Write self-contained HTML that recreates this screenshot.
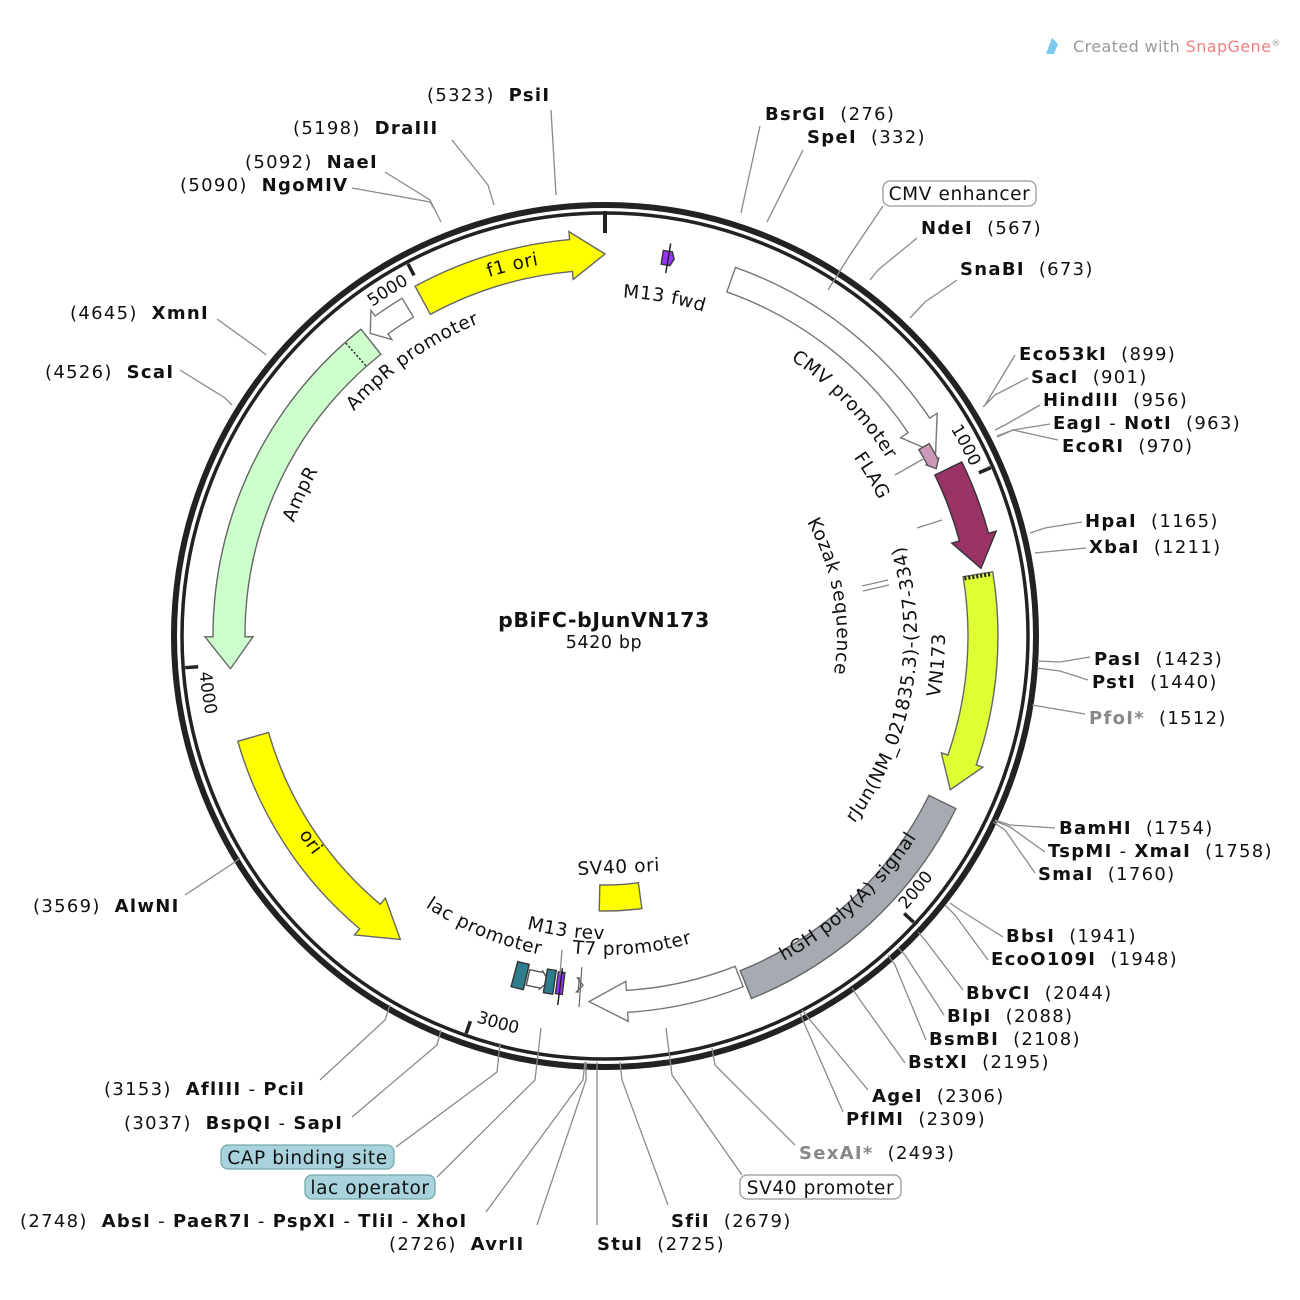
<!DOCTYPE html>
<html><head><meta charset="utf-8">
<style>
html,body{margin:0;padding:0;background:#fff;}
svg{display:block;font-family:"DejaVu Sans","Liberation Sans",sans-serif;}
.rs{font-size:18px;fill:#111;letter-spacing:1.3px;}
.rs tspan.b{font-weight:bold;}
.ln{fill:none;stroke:#8a8a8a;stroke-width:1.3;}
.fl{font-size:18.5px;fill:#111;letter-spacing:0.6px;}
.tk{font-size:17px;fill:#111;}
</style></head>
<body>
<svg id="s" width="1300" height="1300" viewBox="0 0 1300 1300" xmlns="http://www.w3.org/2000/svg">
<defs id="defs"></defs>
<rect width="1300" height="1300" fill="#fff"/>
<g id="feat"></g>
<circle cx="605" cy="636" r="431" fill="none" stroke="#222" stroke-width="6"/>
<circle cx="605" cy="636" r="423" fill="none" stroke="#222" stroke-width="3.5"/>
<g id="ticks" stroke="#222" stroke-width="3.5"></g>

<path d="M1046 54 L1052 38 L1058 44 L1054 54 Z" fill="#7cc8ee"/>
<text x="1073" y="52" font-size="16" fill="#9a9a9a" letter-spacing="0.4">Created with <tspan fill="#f08080">SnapGene</tspan><tspan font-size="9" dy="-6">®</tspan></text>

<text x="604" y="627" font-size="20.5" font-weight="bold" text-anchor="middle" fill="#111" letter-spacing="0.6">pBiFC-bJunVN173</text>
<text x="604" y="648" font-size="17.5" text-anchor="middle" fill="#111" letter-spacing="0.6">5420 bp</text>

<g class="ln">
<polyline points="551,110 556,195"/>
<polyline points="452,140 488,185 494,205"/>
<polyline points="385,172 430,200 441,222"/>
<polyline points="352,188 430,202 435,210"/>
<polyline points="760,126 741,213"/>
<polyline points="803,150 767,222"/>
<polyline points="883,206 850,255 828,290"/>
<polyline points="917,238 878,270 870,280"/>
<polyline points="957,280 925,302 910,318"/>
<polyline points="1015,355 1000,380 985,405"/>
<polyline points="1028,378 995,395 983,407"/>
<polyline points="1040,405 1005,425 995,430"/>
<polyline points="1050,424 1013,430 997,436"/>
<polyline points="1058,440 1013,430 997,437"/>
<polyline points="1082,522 1045,528 1030,533"/>
<polyline points="1086,548 1045,552 1035,553"/>
<polyline points="1090,657 1060,662 1037,661"/>
<polyline points="1088,680 1060,671 1037,668"/>
<polyline points="1085,714 1032,705"/>
<polyline points="1055,828 1010,825 995,820"/>
<polyline points="1045,852 1010,827 995,821"/>
<polyline points="1035,873 1005,830 993,822"/>
<polyline points="1003,937 960,910 950,903"/>
<polyline points="988,960 955,915 945,905"/>
<polyline points="963,990 925,940 918,932"/>
<polyline points="944,1015 905,955 898,948"/>
<polyline points="926,1040 895,965 888,955"/>
<polyline points="905,1063 860,1000 852,988"/>
<polyline points="868,1090 810,1020 802,1010"/>
<polyline points="843,1112 805,1025 800,1013"/>
<polyline points="795,1145 715,1065 712,1048"/>
<polyline points="742,1175 672,1075 666,1028"/>
<polyline points="668,1205 622,1080 620,1062"/>
<polyline points="597,1225 597,1062"/>
<polyline points="537,1225 586,1080 586,1062"/>
<polyline points="486,1212 583,1080 585,1062"/>
<polyline points="437,1177 535,1080 541,1028"/>
<polyline points="396,1147 497,1072 500,1043"/>
<polyline points="352,1117 437,1045 441,1030"/>
<polyline points="320,1080 385,1020 390,1005"/>
<polyline points="185,895 235,862 240,858"/>
<polyline points="180,370 225,398 232,405"/>
<polyline points="217,319 260,350 266,355"/>
<polyline points="895,475 925,458"/>
<polyline points="917,528 942,520"/>
<polyline points="862,586 888,580"/>
<polyline points="863,591 889,585"/>
<polyline points="560,975 562,950"/>
</g>

<g class="rs">
<text x="427" y="101">(5323)<tspan class="b" dx="14">PsiI</tspan></text>
<text x="293" y="134">(5198)<tspan class="b" dx="14">DraIII</tspan></text>
<text x="245" y="168">(5092)<tspan class="b" dx="14">NaeI</tspan></text>
<text x="180" y="191">(5090)<tspan class="b" dx="14">NgoMIV</tspan></text>
<text x="70" y="319">(4645)<tspan class="b" dx="14">XmnI</tspan></text>
<text x="45" y="378">(4526)<tspan class="b" dx="14">ScaI</tspan></text>
<text x="33" y="912">(3569)<tspan class="b" dx="14">AlwNI</tspan></text>
<text x="104" y="1095">(3153)<tspan class="b" dx="14">AflIII</tspan> - <tspan class="b">PciI</tspan></text>
<text x="124" y="1129">(3037)<tspan class="b" dx="14">BspQI</tspan> - <tspan class="b">SapI</tspan></text>
<text x="20" y="1227">(2748)<tspan class="b" dx="14">AbsI</tspan> - <tspan class="b">PaeR7I</tspan> - <tspan class="b">PspXI</tspan> - <tspan class="b">TliI</tspan> - <tspan class="b">XhoI</tspan></text>
<text x="389" y="1250">(2726)<tspan class="b" dx="14">AvrII</tspan></text>

<text x="765" y="120"><tspan class="b">BsrGI</tspan><tspan dx="14">(276)</tspan></text>
<text x="807" y="143"><tspan class="b">SpeI</tspan><tspan dx="14">(332)</tspan></text>
<text x="921" y="234"><tspan class="b">NdeI</tspan><tspan dx="14">(567)</tspan></text>
<text x="960" y="275"><tspan class="b">SnaBI</tspan><tspan dx="14">(673)</tspan></text>
<text x="1019" y="360"><tspan class="b">Eco53kI</tspan><tspan dx="14">(899)</tspan></text>
<text x="1031" y="383"><tspan class="b">SacI</tspan><tspan dx="14">(901)</tspan></text>
<text x="1043" y="406"><tspan class="b">HindIII</tspan><tspan dx="14">(956)</tspan></text>
<text x="1053" y="429"><tspan class="b">EagI</tspan> - <tspan class="b">NotI</tspan><tspan dx="14">(963)</tspan></text>
<text x="1062" y="452"><tspan class="b">EcoRI</tspan><tspan dx="14">(970)</tspan></text>
<text x="1085" y="527"><tspan class="b">HpaI</tspan><tspan dx="14">(1165)</tspan></text>
<text x="1089" y="553"><tspan class="b">XbaI</tspan><tspan dx="14">(1211)</tspan></text>
<text x="1094" y="665"><tspan class="b">PasI</tspan><tspan dx="14">(1423)</tspan></text>
<text x="1092" y="688"><tspan class="b">PstI</tspan><tspan dx="14">(1440)</tspan></text>
<text x="1089" y="724"><tspan class="b" fill="#888">PfoI*</tspan><tspan dx="14">(1512)</tspan></text>
<text x="1059" y="834"><tspan class="b">BamHI</tspan><tspan dx="14">(1754)</tspan></text>
<text x="1048" y="857"><tspan class="b">TspMI</tspan> - <tspan class="b">XmaI</tspan><tspan dx="14">(1758)</tspan></text>
<text x="1038" y="880"><tspan class="b">SmaI</tspan><tspan dx="14">(1760)</tspan></text>
<text x="1006" y="942"><tspan class="b">BbsI</tspan><tspan dx="14">(1941)</tspan></text>
<text x="991" y="965"><tspan class="b">EcoO109I</tspan><tspan dx="14">(1948)</tspan></text>
<text x="966" y="999"><tspan class="b">BbvCI</tspan><tspan dx="14">(2044)</tspan></text>
<text x="947" y="1022"><tspan class="b">BlpI</tspan><tspan dx="14">(2088)</tspan></text>
<text x="929" y="1045"><tspan class="b">BsmBI</tspan><tspan dx="14">(2108)</tspan></text>
<text x="908" y="1068"><tspan class="b">BstXI</tspan><tspan dx="14">(2195)</tspan></text>
<text x="872" y="1102"><tspan class="b">AgeI</tspan><tspan dx="14">(2306)</tspan></text>
<text x="846" y="1125"><tspan class="b">PflMI</tspan><tspan dx="14">(2309)</tspan></text>
<text x="799" y="1159"><tspan class="b" fill="#888">SexAI*</tspan><tspan dx="14">(2493)</tspan></text>
<text x="671" y="1227"><tspan class="b">SfiI</tspan><tspan dx="14">(2679)</tspan></text>
<text x="597" y="1250"><tspan class="b">StuI</tspan><tspan dx="14">(2725)</tspan></text>
</g>

<rect x="883" y="181" width="153" height="25" rx="7" fill="#fff" stroke="#999" stroke-width="1.3"/>
<text x="959.5" y="200" font-size="18.5" text-anchor="middle" fill="#111" letter-spacing="0.6">CMV enhancer</text>
<rect x="740" y="1175" width="161" height="24" rx="7" fill="#fff" stroke="#999" stroke-width="1.3"/>
<text x="820.5" y="1194" font-size="18.5" text-anchor="middle" fill="#111" letter-spacing="0.6">SV40 promoter</text>
<rect x="221" y="1145" width="173" height="24" rx="7" fill="#a8d2dc" stroke="#7aa" stroke-width="1.3"/>
<text x="307.5" y="1164" font-size="18.5" text-anchor="middle" fill="#111" letter-spacing="0.6">CAP binding site</text>
<rect x="305" y="1175" width="130" height="24" rx="7" fill="#a8d2dc" stroke="#7aa" stroke-width="1.3"/>
<text x="370" y="1194" font-size="18.5" text-anchor="middle" fill="#111" letter-spacing="0.6">lac operator</text>

<text x="619" y="873" font-size="18.5" text-anchor="middle" fill="#111" letter-spacing="0.6" transform="rotate(-3 619 873)">SV40 ori</text>

<g class="fl">
<text><textPath href="#t_f1" startOffset="50%" text-anchor="middle">f1 ori</textPath></text>
<text><textPath href="#t_m13f" startOffset="50%" text-anchor="middle">M13 fwd</textPath></text>
<text><textPath href="#t_ampp" startOffset="50%" text-anchor="middle">AmpR promoter</textPath></text>
<text><textPath href="#t_amp" startOffset="50%" text-anchor="middle">AmpR</textPath></text>
<text><textPath href="#t_cmv" startOffset="50%" text-anchor="middle">CMV promoter</textPath></text>
<text><textPath href="#t_flag" startOffset="50%" text-anchor="middle">FLAG</textPath></text>
<text><textPath href="#t_koz" startOffset="50%" text-anchor="middle">Kozak sequence</textPath></text>
<text><textPath href="#t_rjun" startOffset="50%" text-anchor="middle">rJun(NM_021835.3)-(257-334)</textPath></text>
<text><textPath href="#t_vn" startOffset="50%" text-anchor="middle">VN173</textPath></text>
<text><textPath href="#t_hgh" startOffset="50%" text-anchor="middle">hGH poly(A) signal</textPath></text>
<text><textPath href="#t_t7" startOffset="50%" text-anchor="middle">T7 promoter</textPath></text>
<text><textPath href="#t_m13r" startOffset="50%" text-anchor="middle">M13 rev</textPath></text>
<text><textPath href="#t_lac" startOffset="50%" text-anchor="middle">lac promoter</textPath></text>
<text><textPath href="#t_ori" startOffset="50%" text-anchor="middle">ori</textPath></text>
</g>
<g class="tk">
<text><textPath href="#k5000" startOffset="100%" text-anchor="end">5000</textPath></text>
<text><textPath href="#k1000" startOffset="100%" text-anchor="end">1000</textPath></text>
<text><textPath href="#k2000" startOffset="0%" text-anchor="start">2000</textPath></text>
<text><textPath href="#k3000" startOffset="0%" text-anchor="start">3000</textPath></text>
<text><textPath href="#k4000" startOffset="0%" text-anchor="start">4000</textPath></text>
</g>
</svg>
<script>
(function(){
var CX=605,CY=636,NS="http://www.w3.org/2000/svg";
function P(a,r){var t=a*Math.PI/180;return [(CX+r*Math.sin(t)).toFixed(2),(CY-r*Math.cos(t)).toFixed(2)];}
function arc(a1,a2,r){var p=P(a2,r),sw=a2>a1?1:0,l=Math.abs(a2-a1)>180?1:0;return " A"+r+" "+r+" 0 "+l+" "+sw+" "+p[0]+" "+p[1];}
function el(tag,at,par){var e=document.createElementNS(NS,tag);for(var k in at)e.setAttribute(k,at[k]);(par||document.getElementById('feat')).appendChild(e);return e;}
function arrow(a1,a2,rc,w,head,fill,stroke,hw){
  var s=a2>a1?1:-1,hd=head/rc*180/Math.PI,ab=a2-s*hd,r1=rc-w/2,r2=rc+w/2;hw=hw||(w/2+9);
  var p0=P(a1,r2),d="M"+p0[0]+" "+p0[1]+arc(a1,ab,r2);
  var q=P(ab,rc+hw);d+=" L"+q[0]+" "+q[1];q=P(a2,rc);d+=" L"+q[0]+" "+q[1];
  q=P(ab,rc-hw);d+=" L"+q[0]+" "+q[1];q=P(ab,r1);d+=" L"+q[0]+" "+q[1];
  d+=arc(ab,a1,r1)+" Z";
  el('path',{d:d,fill:fill,stroke:stroke||'#666','stroke-width':1.4,'stroke-linejoin':'miter'});
}
function box(a1,a2,rc,w,fill,stroke){
  var r1=rc-w/2,r2=rc+w/2,p=P(a1,r2),d="M"+p[0]+" "+p[1]+arc(a1,a2,r2);
  var q=P(a2,r1);d+=" L"+q[0]+" "+q[1]+arc(a2,a1,r1)+" Z";
  el('path',{d:d,fill:fill,stroke:stroke||'#555','stroke-width':1.4});
}
function rline(a,r1,r2,par,at){var p=P(a,r1),q=P(a,r2);at=at||{};at.x1=p[0];at.y1=p[1];at.x2=q[0];at.y2=q[1];return el('line',at,par);}
function tp(id,a1,a2,r){var p=P(a1,r);el('path',{id:id,d:"M"+p[0]+" "+p[1]+arc(a1,a2,r),fill:'none'},document.getElementById('defs'));}

arrow(-28.5,0,382,32,34,'#ffff00','#666',24);
arrow(-31,-37.8,383,22,14,'#fff','#777',18);
arrow(-38.5,-95,376,32,32,'#ccffcc','#666',24);
rline(-41.5,361,391,null,{stroke:'#222','stroke-width':1.5,'stroke-dasharray':'2,2'});
arrow(254,214,366,32,38,'#ffff00','#666',24);
arrow(19.5,61,378,26,32,'#fff','#777',22);
arrow(8.6,10.4,383,14,3,'#9933ff','#333',7);
rline(9.5,368,398,null,{stroke:'#222','stroke-width':1.5});
arrow(59.3,63.2,371,12,8,'#cc99bb','#555',7);
arrow(64,79.8,382,30,32,'#993366','#333',23);
arrow(80.6,114,378,30,32,'#ddff33','#666',22);
rline(80.9,364,392,null,{stroke:'#222','stroke-width':4,'stroke-dasharray':'2,2'});
box(116.2,158,376,30,'#a6abb2','#666');
arrow(158.5,182.5,366,22,38,'#fff','#777',20);
box(193,195,350,26,'#2e7d8c','#333');
arrow(192.7,189.2,350,16,8,'#fff','#555',9);
box(188.3,189.8,350,24,'#2e7d8c','#333');
box(186.8,187.9,350,22,'#9933ff','#333');
rline(187.3,335,372,null,{stroke:'#222','stroke-width':1.5});
arrow(184.3,183.6,350,14,6,'#fff','#666',7);
rline(184,332,372,null,{stroke:'#666','stroke-width':1.2});
box(172.3,181.2,262,26,'#ffff00','#666');

var tg=document.getElementById('ticks');
rline(0,403,425,tg,{'stroke-width':4});
[1000,2000,3000,4000,5000].forEach(function(b){rline(b/5420*360,408,421,tg);});

tp('t_f1',-40,12,377);
tp('t_m13f',-10,30,339);
tp('t_ampp',-70,0,337);
tp('t_amp',-100,-30,331);
tp('t_cmv',20,72,333);
tp('t_flag',42,76,306);
tp('t_koz',40,120,232);
tp('t_rjun',150,50,312);
tp('t_vn',130,60,340);
tp('t_hgh',172,102,371);
tp('t_t7',200,150,319);
tp('t_m13r',210,165,303);
tp('t_lac',225,180,325);
tp('t_ori',260,210,365);
var t5=332.1,t1=66.4,t2=132.8,t3=199.3,t4=265.7;
tp('k5000',t5-40,t5-1.2,403);
tp('k1000',t1-40,t1-1.2,403);
tp('k2000',t2-0.5,t2-40,407);
tp('k3000',t3-0.8,t3-40,407);
tp('k4000',t4-0.8,t4-40,407);
})();
</script>
</body></html>
